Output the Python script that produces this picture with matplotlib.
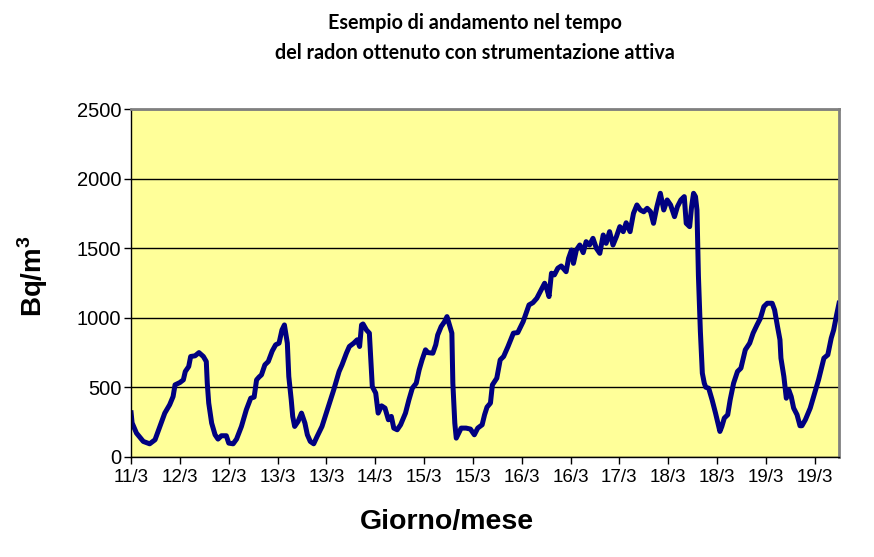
import matplotlib
matplotlib.use("Agg")
import matplotlib.pyplot as plt

# posizione lungo l'asse (in unita di etichetta) e concentrazione in Bq/m3
t = [0.00, 0.02, 0.11, 0.25, 0.38, 0.49, 0.59, 0.69, 0.79, 0.86, 0.90, 1.00,
     1.07, 1.11, 1.18, 1.22, 1.31, 1.39, 1.48, 1.54, 1.56, 1.59, 1.65, 1.72,
     1.78, 1.85, 1.95, 2.00, 2.09, 2.16, 2.26, 2.36, 2.45, 2.52, 2.57, 2.62,
     2.67, 2.74, 2.81, 2.89, 2.96, 3.03, 3.09, 3.14, 3.20, 3.23, 3.28, 3.31,
     3.35, 3.42, 3.49, 3.56, 3.61, 3.67, 3.74, 3.81, 3.91, 4.02, 4.15, 4.26,
     4.32, 4.41, 4.47, 4.56, 4.63, 4.68, 4.72, 4.75, 4.82, 4.88, 4.94, 5.01,
     5.06, 5.13, 5.20, 5.27, 5.33, 5.38, 5.45, 5.52, 5.62, 5.69, 5.76, 5.84,
     5.90, 5.96, 6.03, 6.08, 6.18, 6.24, 6.28, 6.35, 6.42, 6.47, 6.52, 6.57,
     6.59, 6.63, 6.66, 6.71, 6.76, 6.86, 6.95, 7.03, 7.10, 7.19, 7.24, 7.29,
     7.36, 7.40, 7.49, 7.56, 7.63, 7.72, 7.83, 7.92, 8.03, 8.15, 8.23, 8.31,
     8.40, 8.47, 8.52, 8.56, 8.61, 8.67, 8.74, 8.81, 8.91, 8.96, 9.02, 9.06,
     9.12, 9.19, 9.26, 9.32, 9.39, 9.46, 9.53, 9.60, 9.67, 9.73, 9.80, 9.87,
     9.94, 10.01, 10.08, 10.14, 10.22, 10.29, 10.36, 10.43, 10.50, 10.57,
     10.64, 10.70, 10.77, 10.84, 10.91, 10.98, 11.05, 11.13, 11.19, 11.26,
     11.33, 11.37, 11.44, 11.48, 11.52, 11.56, 11.59, 11.62, 11.66, 11.70,
     11.74, 11.77, 11.83, 11.90, 11.97, 12.06, 12.10, 12.15, 12.22, 12.27,
     12.34, 12.42, 12.49, 12.58, 12.67, 12.74, 12.82, 12.89, 12.96, 13.03,
     13.13, 13.18, 13.24, 13.29, 13.31, 13.37, 13.42, 13.47, 13.52, 13.57,
     13.64, 13.70, 13.74, 13.81, 13.91, 14.02, 14.08, 14.19, 14.27, 14.34,
     14.39, 14.45, 14.50]

radon = [316, 244, 170, 110, 93, 122, 218, 314, 374, 433, 517, 534,
         553, 613, 649, 721, 726, 749, 721, 685, 529, 386, 242, 158,
         127, 151, 151, 98, 93, 127, 218, 338, 421, 429, 553, 573,
         589, 661, 685, 760, 805, 817, 912, 948, 817, 577, 409, 290,
         218, 254, 314, 242, 158, 110, 93, 146, 218, 338, 481, 613,
         661, 745, 793, 817, 841, 793, 948, 955, 912, 889, 505, 458,
         314, 366, 350, 266, 290, 206, 194, 230, 314, 409, 493, 529,
         625, 697, 769, 749, 745, 805, 876, 936, 972, 1008, 948, 889,
         529, 242, 134, 170, 206, 206, 199, 158, 206, 230, 302, 357,
         386, 517, 565, 697, 721, 793, 889, 893, 972, 1092, 1108, 1140,
         1200, 1248, 1200, 1152, 1320, 1308, 1356, 1372, 1331, 1427, 1487, 1391,
         1487, 1523, 1468, 1547, 1523, 1571, 1499, 1463, 1595, 1535, 1619, 1523,
         1583, 1655, 1619, 1683, 1619, 1751, 1811, 1775, 1762, 1787,
         1762, 1679, 1799, 1895, 1775, 1847, 1811, 1727, 1799, 1847,
         1871, 1679, 1655, 1799, 1895, 1871, 1775, 1300, 900, 601,
         529, 500, 493, 409, 314, 182, 218, 278, 302, 409,
         529, 613, 637, 769, 817, 889, 948, 996, 1080, 1104,
         1104, 1056, 936, 841, 709, 577, 421, 481, 433, 350,
         302, 223, 223, 266, 350, 481, 553, 709, 733, 853,
         912, 1020, 1104]

etichette = ["11/3", "12/3", "12/3", "13/3", "13/3", "14/3", "15/3", "15/3",
             "16/3", "16/3", "17/3", "18/3", "18/3", "19/3", "19/3"]
y_ticks = [0, 500, 1000, 1500, 2000, 2500]

fig = plt.figure(figsize=(8.74, 5.57), dpi=100)
ax = fig.add_axes([0.150, 0.180, 0.810, 0.624])
ax.set_facecolor("#FFFF99")

ax.plot(t, radon, color="#000080", linewidth=3.6, solid_joinstyle="round")

ax.set_xlim(0, 14.5)
ax.set_ylim(0, 2500)
ax.set_xticks(range(len(etichette)))
ax.set_xticklabels(etichette, fontsize=13.5, family="Liberation Sans")
ax.set_yticks(y_ticks)
ax.set_yticklabels([str(v) for v in y_ticks], fontsize=14.5, family="Liberation Sans")
ax.yaxis.grid(True, color="black", linewidth=1.0)
ax.set_axisbelow(True)
ax.tick_params(axis="x", direction="out", length=5, width=1, color="black", pad=4)
ax.tick_params(axis="y", direction="out", length=5, width=1, color="black", pad=2)

for s in ["top", "right"]:
    ax.spines[s].set_color("#808080")
    ax.spines[s].set_linewidth(2)
for s in ["left", "bottom"]:
    ax.spines[s].set_color("black")
    ax.spines[s].set_linewidth(1)

fig.text(0.511, 0.062, "Giorno/mese", ha="center", va="center",
         fontsize=20.5, fontweight="bold", family="Liberation Sans")
fig.text(0.037, 0.505, "Bq/m$^\\mathregular{3}$", ha="center", va="center",
         rotation=90, fontsize=20, fontweight="bold", family="Liberation Sans")

fig.text(0.543, 0.958, "Esempio di andamento nel tempo", ha="center", va="center",
         fontsize=14.2, fontweight="bold", family="Lato")
fig.text(0.543, 0.905, "del radon ottenuto con strumentazione attiva", ha="center",
         va="center", fontsize=14.2, fontweight="bold", family="Lato")

fig.savefig("out.png", dpi=100)
